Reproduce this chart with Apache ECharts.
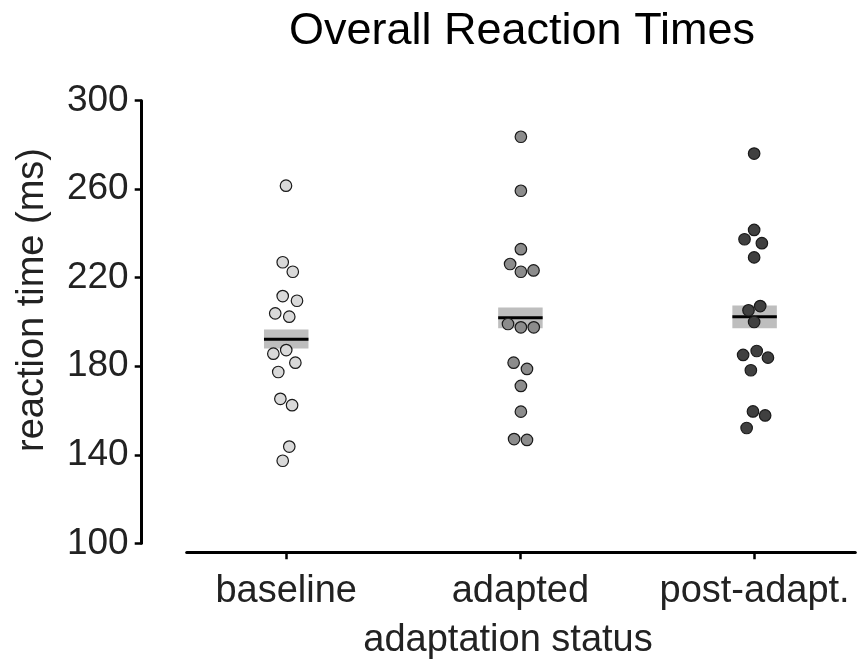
<!DOCTYPE html>
<html>
<head>
<meta charset="utf-8">
<script src="https://cdn.jsdelivr.net/npm/echarts@6/dist/echarts.min.js"></script>
<style>html,body{margin:0;padding:0;background:#fff;}#c{width:860px;height:665px;}</style>
</head>
<body>
<div id="c"></div>
<script>
// ---- data ----
const categories = ['baseline', 'adapted', 'post-adapt.'];
const yTicks = [100, 140, 180, 220, 260, 300];

const baselineRT = [261.6, 227.0, 222.7, 211.7, 209.6, 203.9, 202.4, 187.3, 185.7, 181.6, 177.4, 165.3, 162.4, 143.7, 137.3];
const baselineJitter = [-0.001, -0.015, 0.028, -0.015, 0.046, -0.047, 0.013, 0.000, -0.055, 0.039, -0.034, -0.025, 0.025, 0.013, -0.015];

const adaptedRT = [283.7, 259.3, 232.9, 226.2, 222.7, 223.3, 199.1, 197.6, 197.6, 181.6, 178.8, 171.1, 159.5, 147.1, 146.7];
const adaptedJitter = [0.002, 0.002, 0.002, -0.044, 0.002, 0.056, -0.053, 0.002, 0.057, -0.029, 0.028, 0.002, 0.002, -0.027, 0.028];

const postRT = [276.1, 241.6, 237.4, 235.6, 229.2, 207.2, 205.3, 200.0, 186.9, 185.1, 183.9, 178.2, 159.6, 157.8, 152.1];
const postJitter = [-0.002, -0.002, -0.043, 0.031, -0.002, 0.024, -0.026, -0.002, 0.009, -0.049, 0.057, -0.016, -0.007, 0.045, -0.034];

const meanRT = [192.2, 201.9, 202.4];
const seLow = [188.0, 197.2, 197.2];
const seHigh = [196.6, 206.5, 207.5];

// ---- build ----
const FONT = '"Liberation Sans", Arial, sans-serif';
function pts(vals, jit, idx) { return vals.map((v, i) => [idx + 1 + jit[i], v]); }
const summary = meanRT.map((m, i) => [i + 1, m, seLow[i], seHigh[i]]);
const HALF = 0.095;

const chart = echarts.init(document.getElementById('c'), null, {renderer: 'canvas'});
const scatterStyle = (fill) => ({
  type: 'scatter', symbol: 'circle', symbolSize: 11.5, z: 5,
  itemStyle: {color: fill, borderColor: '#1a1a1a', borderWidth: 1.2, opacity: 1},
  emphasis: {disabled: true}
});

chart.setOption({
  animation: false,
  backgroundColor: '#ffffff',
  title: {
    text: 'Overall Reaction Times', left: 284, top: 4,
    textStyle: {fontFamily: FONT, fontSize: 45, fontWeight: 'normal', color: '#000'}
  },
  grid: {left: 186.7, right: 4.7, top: 100.7, bottom: 121.7, containLabel: false},
  xAxis: {
    type: 'value', min: 0.575, max: 3.43, offset: 9,
    axisLine: {show: true, lineStyle: {color: '#000', width: 3}},
    axisTick: {show: true, customValues: [1, 2, 3], length: 7, lineStyle: {color: '#000', width: 2.5}},
    axisLabel: {
      customValues: [1, 2, 3], margin: 20,
      formatter: v => categories[Math.round(v) - 1] || '',
      fontFamily: FONT, fontSize: 38, color: '#222'
    },
    splitLine: {show: false}
  },
  yAxis: {
    type: 'value', min: yTicks[0], max: yTicks[yTicks.length - 1], interval: 40, offset: 45,
    axisLine: {show: true, lineStyle: {color: '#000', width: 3}},
    axisTick: {show: true, length: 7, lineStyle: {color: '#000', width: 2.5}},
    axisLabel: {margin: 13, fontFamily: FONT, fontSize: 37, color: '#222'},
    splitLine: {show: false}
  },
  graphic: [
    {type: 'text', x: 33, y: 300, rotation: Math.PI / 2,
     style: {text: 'reaction time (ms)', x: 0, y: 0, align: 'center', verticalAlign: 'middle',
             font: '38px "Liberation Sans", Arial, sans-serif', fill: '#222'}},
    {type: 'text', x: 508, y: 641,
     style: {text: 'adaptation status', x: 0, y: 0, align: 'center', verticalAlign: 'middle',
             font: '38px "Liberation Sans", Arial, sans-serif', fill: '#222'}}
  ],
  series: [
    {
      type: 'custom', z: 2,
      data: summary,
      encode: {x: 0, y: [1, 2, 3]},
      renderItem: function (params, api) {
        const x = api.value(0), m = api.value(1), lo = api.value(2), hi = api.value(3);
        const a = api.coord([x - HALF, hi]);
        const b = api.coord([x + HALF, lo]);
        const l = api.coord([x - HALF, m]);
        const r = api.coord([x + HALF, m]);
        return {
          type: 'group',
          children: [
            {type: 'rect', shape: {x: a[0], y: a[1], width: b[0] - a[0], height: b[1] - a[1]},
             style: {fill: '#bebebe'}},
            {type: 'line', shape: {x1: l[0], y1: l[1], x2: r[0], y2: r[1]},
             style: {stroke: '#000', lineWidth: 3}}
          ]
        };
      }
    },
    Object.assign(scatterStyle('#d9d9d9'), {name: categories[0], data: pts(baselineRT, baselineJitter, 0)}),
    Object.assign(scatterStyle('#8c8c8c'), {name: categories[1], data: pts(adaptedRT, adaptedJitter, 1)}),
    Object.assign(scatterStyle('#404040'), {name: categories[2], data: pts(postRT, postJitter, 2)})
  ]
});
</script>
</body>
</html>
